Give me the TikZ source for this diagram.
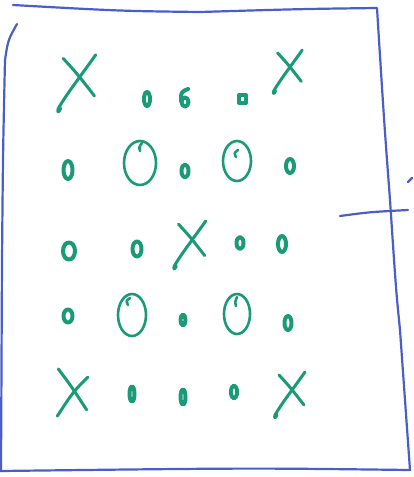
\documentclass[tikz,border=0pt]{standalone}
\definecolor{pen}{HTML}{1B9A78}
\definecolor{ink}{HTML}{4B5DC8}
\begin{document}
\begin{tikzpicture}[x=1pt,y=-1pt,line cap=round,line join=round,
  frame/.style={draw=ink,line width=2.2pt},
  penline/.style={draw=pen,line width=3pt},
  dotline/.style={draw=pen,line width=4pt},
  ringline/.style={draw=pen,line width=2.6pt},
  xhook/.pic={
    \draw[penline] (-11,-18) .. controls (0,-6) .. (14,12);
    \draw[penline] (15,-21) .. controls (3,-4) and (-8,10) .. (-15,22)
                   .. controls (-16,25) and (-15,26) .. (-13,22);},
  xplain/.pic={
    \draw[penline] (-14,-22) .. controls (-2,-6) .. (13,17);
    \draw[penline] (14,-14) .. controls (0,0) .. (-15,23);}
]
\useasboundingbox (0,0) rectangle (414,477);
% frame
\draw[frame] (13,5) .. controls (120,11) .. (200,12) .. controls (300,9) .. (377,8)
  .. controls (384,120) .. (390,200) .. controls (396,290) .. (400,330)
  .. controls (405,400) .. (410,470) .. controls (250,468) .. (0,471);
\draw[frame] (17,24) .. controls (8,40) .. (5,60) .. controls (3,150) .. (2,260) -- (1,471);
\draw[frame] (340,216) .. controls (370,212) .. (408,210);
\draw[frame] (412,178) -- (408,182);
% crosses
\pic[scale=1.25] at (77,81) {xhook};
\pic[scale=0.95] at (288,70) {xhook};
\pic[scale=1.05] at (190,243) {xhook};
\pic[scale=1.05] at (73,392) {xplain};
\pic[scale=1.0] at (290,393) {xhook};
% big rings
\draw[ringline] (140,163) ellipse [x radius=16, y radius=22];
\draw[ringline] (142,143) .. controls (139,147) .. (140,151);
\draw[ringline] (237,161) ellipse [x radius=14, y radius=20];
\draw[ringline] (238,150) .. controls (234,153) .. (236,157);
\draw[ringline] (132,315) ellipse [x radius=14, y radius=21];
\draw[ringline] (130,298) .. controls (126,301) .. (128,305);
\draw[ringline] (237,314) ellipse [x radius=13, y radius=20];
\draw[ringline] (237,297) .. controls (235,302) .. (236,306);
% small dots
\foreach \cx/\cy/\rx/\ry in {147/99/3/7, 68/170/4.5/9, 185/171/3.5/6.5, 290/166/4/7,
  69/251/6/8.5, 137/249/4.5/7.5, 240/243/3.5/6, 282/244/4/8,
  68/316/4.5/6.5, 183/320/2.5/5.5, 288/323/3.5/7,
  132/394/2.5/7.5, 183/397/2.5/7.5, 234/392/3/6.5}
  \draw[dotline] (\cx,\cy) ellipse [x radius=\rx, y radius=\ry];
% the "6"
\draw[dotline] (185,102) ellipse [x radius=3.5, y radius=4.5];
\draw[dotline] (181,101) .. controls (181,92) .. (188,89);
% small square
\draw[dotline] (239,95) rectangle (246,103);
\end{tikzpicture}
\end{document}
